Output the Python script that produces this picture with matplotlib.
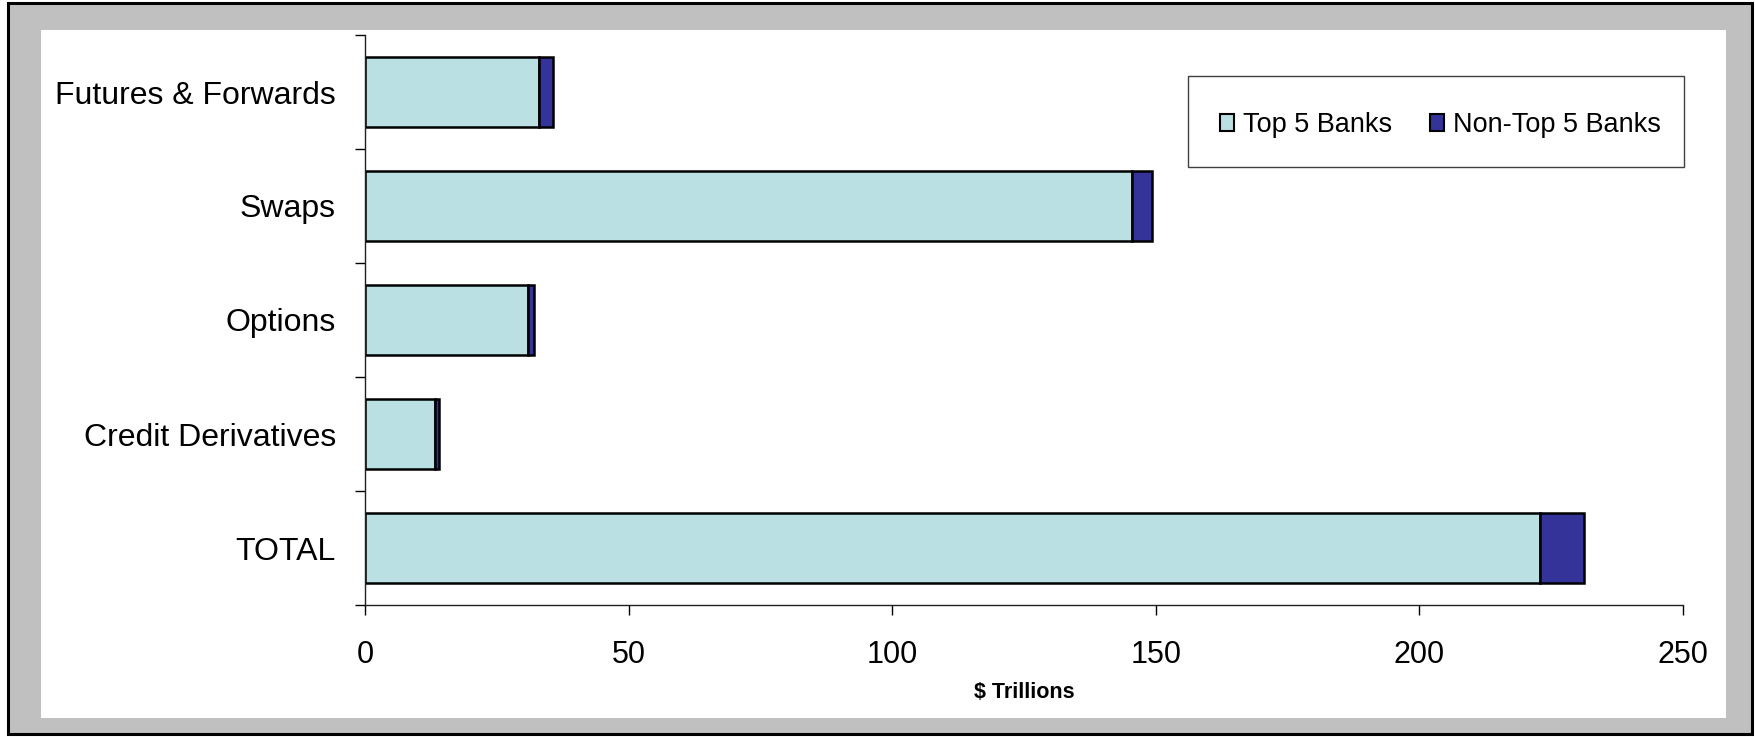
import matplotlib.pyplot as plt
import matplotlib.patches as mpatches
import numpy as np

plt.rcParams["font.family"] = ["Liberation Sans", "DejaVu Sans"]

categories = ["Futures & Forwards", "Swaps", "Options", "Credit Derivatives", "TOTAL"]
top5 = [33.0, 145.5, 31.0, 13.3, 222.9]
non_top5 = [2.6, 3.7, 1.0, 0.8, 8.4]
series_labels = ["Top 5 Banks", "Non-Top 5 Banks"]
x_ticks = [0, 50, 100, 150, 200, 250]

LIGHT = "#BBE0E3"
DARK = "#333399"

W, H = 1756, 737
fig = plt.figure(figsize=(W / 100, H / 100), dpi=100, facecolor="white")

# grey outer frame and white chart area
fig.patches.append(mpatches.Rectangle((8 / W, 3 / H), 1744 / W, 731 / H, transform=fig.transFigure,
                                      facecolor="#C0C0C0", edgecolor="black", linewidth=2.2, zorder=-2))
fig.patches.append(mpatches.Rectangle((41 / W, (H - 718) / H), 1685 / W, 688 / H, transform=fig.transFigure,
                                      facecolor="white", edgecolor="none", zorder=-1))

ax = fig.add_axes([365 / W, (H - 605) / H, 1318 / W, 570 / H])
ax.set_facecolor("none")
ax.set_zorder(2)

y = np.arange(len(categories))
ax.barh(y, top5, height=0.61, color=LIGHT, edgecolor="black", linewidth=1.8, label=series_labels[0])
ax.barh(y, non_top5, left=top5, height=0.61, color=DARK, edgecolor="black", linewidth=1.8, label=series_labels[1])

ax.set_xlim(0, 250)
ax.set_ylim(len(categories) - 0.5, -0.5)

ax.set_xticks(x_ticks)
ax.set_xticklabels([str(v) for v in x_ticks], fontsize=22)
ax.tick_params(axis="x", direction="out", length=7, width=1, pad=18, colors="black")

ax.set_yticks(y)
ax.set_yticklabels(categories, fontsize=23)
ax.tick_params(axis="y", which="major", length=0, pad=21)
ax.set_yticks(np.arange(-0.5, len(categories)), minor=True)
ax.tick_params(axis="y", which="minor", direction="out", length=7, width=1)

for side in ["top", "right"]:
    ax.spines[side].set_visible(False)
for side in ["left", "bottom"]:
    ax.spines[side].set_linewidth(1)
    ax.spines[side].set_color("#202020")

ax.set_xlabel("$ Trillions", fontsize=15.5, fontweight="bold", labelpad=9)

# legend box drawn separately, legend itself frameless
fig.patches.append(mpatches.Rectangle((1188 / W, (H - 167) / H), 496 / W, 91 / H, transform=fig.transFigure,
                                      facecolor="white", edgecolor="#404040", linewidth=1, zorder=3))
leg = fig.legend(loc="center", bbox_to_anchor=(1440 / W, (H - 125) / H), ncol=2, frameon=False,
                 fontsize=19.5, handlelength=0.55, handleheight=0.55, handletextpad=0.3,
                 columnspacing=1.4)
leg.set_zorder(4)
for h in leg.legend_handles:
    h.set_linewidth(1.5)

fig.savefig("out.png", dpi=100, facecolor="white")
